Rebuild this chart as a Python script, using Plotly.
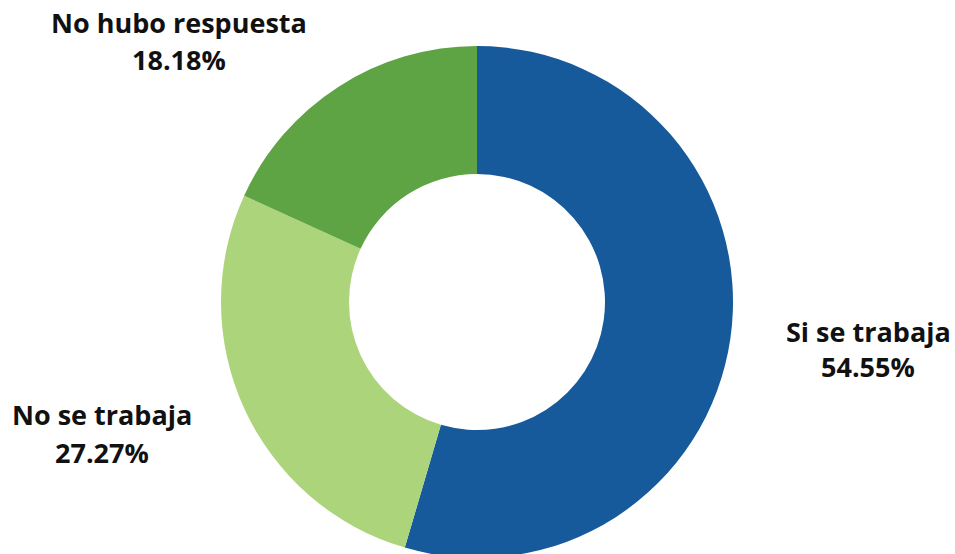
import plotly.graph_objects as go

labels = ["Si se trabaja", "No se trabaja", "No hubo respuesta"]
values = [54.55, 27.27, 18.18]
colors = ["#175a9b", "#acd47a", "#5fa444"]

W, H = 955, 558         # pie slightly exceeds the 554px window at the bottom, as in the reference
PIE_TOP = 46            # pie domain top (pixels)
CX = 477                # pie centre x (pixels)

# label line positions (pixels): (x, y_label_line, y_percent_line)
label_px = [(868, 331.7, 367.0), (102, 414.2, 452.5), (179, 22.2, 59.2)]

def to_paper(x, y):
    return x / W, (H - y) / H

fig = go.Figure()
fig.add_trace(go.Pie(
    labels=labels,
    values=values,
    hole=0.5,
    sort=False,
    direction="clockwise",
    rotation=0,
    marker=dict(colors=colors, line=dict(width=0)),
    textinfo="none",
    hoverinfo="label+percent",
    showlegend=False,
    domain=dict(x=[0, 2 * CX / W], y=[0, (H - PIE_TOP) / H]),
))

font = dict(family="Open Sans", size=27, color="#111111")
for lab, val, (px, py1, py2) in zip(labels, values, label_px):
    for txt, py in ((lab, py1), (f"{val:.2f}%", py2)):
        xp, yp = to_paper(px, py)
        fig.add_annotation(
            x=xp, y=yp, xref="paper", yref="paper",
            text=f"<b>{txt}</b>",
            showarrow=False, font=font,
            xanchor="center", yanchor="middle",
        )

fig.update_layout(
    width=W, height=H,
    margin=dict(l=0, r=0, t=0, b=0),
    paper_bgcolor="white",
    plot_bgcolor="white",
)

fig.write_html(
    "out.html",
    config={"displayModeBar": False},
    post_script="document.body.style.margin='0px';"
                "document.documentElement.style.overflow='hidden';",
)
